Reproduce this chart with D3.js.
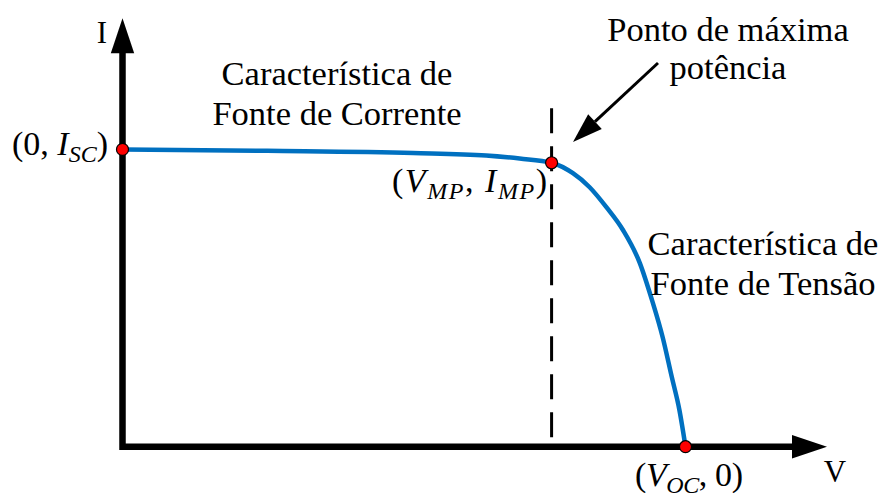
<!DOCTYPE html>
<html>
<head>
<title>Curva I-V</title>
<style>
  body { margin: 0; background: #fff; }
  text { font-family: "Liberation Serif", "Times New Roman", serif; fill: #000; }
  .math { font-family: "Liberation Serif", serif; }
</style>
</head>
<body>
<script src="https://cdnjs.cloudflare.com/ajax/libs/d3/7.8.5/d3.min.js"></script>
<script>
// I-V curve (V in volts, I in amps)
var voltage = [0, 9.5, 19.1, 23.9, 26.1, 28.2, 29.6, 30.7, 31.8, 32.9, 34.0, 34.8, 35.5, 36.1, 36.6, 37.0];
var current = [8.50, 8.46, 8.40, 8.33, 8.24, 8.12, 7.82, 7.42, 6.85, 6.19, 5.25, 4.19, 3.13, 1.99, 1.05, 0];

var vMax = 46.3, iMax = 12.25;
var isc = 8.50, vmp = 28.2, imp = 8.12, voc = 37.0;

var width = 880,
    height = 493;

var x = d3.scaleLinear().domain([0, vMax]).range([122.5, 827]);
var y = d3.scaleLinear().domain([0, iMax]).range([446.7, 18.3]);

var svg = d3.select("body").append("svg")
  .attr("width", width)
  .attr("height", height);

// dashed line at Vmp
svg.append("line")
  .attr("x1", x(vmp)).attr("x2", x(vmp))
  .attr("y1", y(9.68)).attr("y2", y(0))
  .attr("stroke", "#000")
  .attr("stroke-width", 3)
  .attr("stroke-dasharray", "25,13");

// axes
var head = 34, half = 11.7;
svg.append("path")
  .attr("d", "M" + x(0) + "," + (y(iMax) + head) + "L" + x(0) + "," + y(0) + "L" + (x(vMax) - head) + "," + y(0))
  .attr("fill", "none")
  .attr("stroke", "#000")
  .attr("stroke-width", 6.5);

svg.append("path")
  .attr("d", "M" + x(0) + "," + y(iMax) + "L" + (x(0) - half) + "," + (y(iMax) + head + 1) + "L" + (x(0) + half) + "," + (y(iMax) + head + 1) + "Z")
  .attr("fill", "#000");

svg.append("path")
  .attr("d", "M" + x(vMax) + "," + y(0) + "L" + (x(vMax) - head - 1) + "," + (y(0) - half) + "L" + (x(vMax) - head - 1) + "," + (y(0) + half) + "Z")
  .attr("fill", "#000");

// curve
var line = d3.line()
  .x(function(d, i) { return x(voltage[i]); })
  .y(function(d, i) { return y(current[i]); })
  .curve(d3.curveMonotoneX);

svg.append("path")
  .datum(voltage)
  .attr("d", line)
  .attr("fill", "none")
  .attr("stroke", "#0070C0")
  .attr("stroke-width", 4.5);

// key points
var pts = [[0, isc], [vmp, imp], [voc, 0]];
svg.selectAll(".pt")
  .data(pts)
  .enter().append("circle")
  .attr("class", "pt")
  .attr("cx", function(d) { return x(d[0]); })
  .attr("cy", function(d) { return y(d[1]); })
  .attr("r", 6)
  .attr("fill", "#ff0000")
  .attr("stroke", "#000")
  .attr("stroke-width", 1.2);

// arrow to max power point
var ax1 = 658, ay1 = 63, ax2 = 573, ay2 = 142;
var ang = Math.atan2(ay2 - ay1, ax2 - ax1);
var hl = 30, hw = 10;
var bx = ax2 - hl * Math.cos(ang), by = ay2 - hl * Math.sin(ang);
svg.append("line")
  .attr("x1", ax1).attr("y1", ay1)
  .attr("x2", bx).attr("y2", by)
  .attr("stroke", "#000")
  .attr("stroke-width", 3);
svg.append("path")
  .attr("d", "M" + ax2 + "," + ay2 +
    "L" + (bx + hw * Math.sin(ang)) + "," + (by - hw * Math.cos(ang)) +
    "L" + (bx - hw * Math.sin(ang)) + "," + (by + hw * Math.cos(ang)) + "Z")
  .attr("fill", "#000");

// text labels
function block(lines, cx, y0, dy) {
  lines.forEach(function(t, i) {
    svg.append("text")
      .attr("x", cx).attr("y", y0 + i * dy)
      .attr("text-anchor", "middle")
      .style("font-size", "34.5px")
      .text(t);
  });
}
block(["Característica de", "Fonte de Corrente"], 337, 85, 40);
block(["Ponto de máxima", "potência"], 728, 41, 38);
block(["Característica de", "Fonte de Tensão"], 763, 255, 40);

svg.append("text").attr("x", 102).attr("y", 43).attr("text-anchor", "middle")
  .style("font-size", "31px").text("I");
svg.append("text").attr("x", 835).attr("y", 482).attr("text-anchor", "middle")
  .style("font-size", "31px").text("V");

// math labels: [parts], each part = [text, italic, sub]
function mathLabel(parts, xPos, yPos, len) {
  var t = svg.append("text").attr("class", "math")
    .attr("x", xPos).attr("y", yPos)
    .attr("textLength", len)
    .attr("lengthAdjust", "spacing")
    .style("font-size", "34px");
  var inSub = false;
  parts.forEach(function(p) {
    var s = t.append("tspan").text(p[0]);
    if (p[1]) s.style("font-style", "italic");
    if (p[2] && !inSub) { s.attr("dy", 7).style("font-size", "24px"); inSub = true; }
    else if (p[2]) { s.style("font-size", "24px"); }
    else if (inSub) { s.attr("dy", -7); inSub = false; }
  });
}
mathLabel([["(0, ", false, false], ["I", true, false], ["SC", true, true], [")", false, false]], 12, 155, 96);
mathLabel([["(", false, false], ["V", true, false], ["MP", true, true], [", ", false, false], ["I", true, false], ["MP", true, true], [")", false, false]], 392, 192, 155);
mathLabel([["(", false, false], ["V", true, false], ["OC", true, true], [", 0)", false, false]], 635, 486, 108);
</script>
</body>
</html>
